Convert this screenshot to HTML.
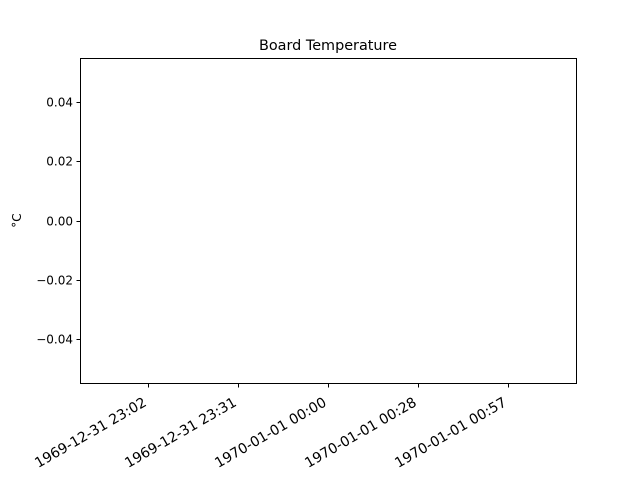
<!DOCTYPE html>
<html>
<head>
<meta charset="utf-8">
<style>
  html,body{margin:0;padding:0;background:#fff;}
  svg{display:block;font-family:"DejaVu Sans","Liberation Sans",sans-serif;}
</style>
</head>
<body>
<svg id="chart" width="640" height="480" viewBox="0 0 640 480">
  <rect x="0" y="0" width="640" height="480" fill="#fff"/>
  <text x="328" y="50" font-size="14.4" text-anchor="middle" fill="#000">Board Temperature</text>
  <text transform="translate(21,220.5) rotate(-90)" font-size="12" text-anchor="middle" fill="#000">°C</text>
  <g id="plot"></g>
  <rect x="80.5" y="58.5" width="496" height="325" fill="none" stroke="#000" stroke-width="1"/>
</svg>
<script>
const seriesTimes = [];
const seriesValues = [];
const yTicks = [0.04, 0.02, 0.00, -0.02, -0.04];
const yTickLabels = ["0.04", "0.02", "0.00", "\u22120.02", "\u22120.04"];
const xTicks = [-3456, -1728, 0, 1728, 3456];
const xTickLabels = ["1969-12-31 23:02", "1969-12-31 23:31", "1970-01-01 00:00", "1970-01-01 00:28", "1970-01-01 00:57"];

const NS = "http://www.w3.org/2000/svg";
const plotG = document.getElementById("plot");
const yMin = -0.055, yMax = 0.055, plotTop = 58, plotBottom = 383;
const xMin = -4761.6, xMax = 4761.6, plotLeft = 80, plotRight = 576;
function yScale(v){ return plotBottom - (v - yMin) / (yMax - yMin) * (plotBottom - plotTop); }
function xScale(v){ return plotLeft + (v - xMin) / (xMax - xMin) * (plotRight - plotLeft); }

yTicks.forEach((v, i) => {
  const y = Math.round(yScale(v)) + 0.5;
  const t = document.createElementNS(NS, "line");
  t.setAttribute("x1", 76.5); t.setAttribute("x2", 80.5);
  t.setAttribute("y1", y); t.setAttribute("y2", y);
  t.setAttribute("stroke", "#000");
  
  
  plotG.appendChild(t);
  const l = document.createElementNS(NS, "text");
  l.setAttribute("x", 73); l.setAttribute("y", y + 4);
  l.setAttribute("font-size", "12"); l.setAttribute("text-anchor", "end");
  l.textContent = yTickLabels[i];
  
  
  plotG.appendChild(l);
});

xTicks.forEach((v, i) => {
  const x = Math.round(xScale(v)) + 0.5;
  const t = document.createElementNS(NS, "line");
  t.setAttribute("x1", x); t.setAttribute("x2", x);
  t.setAttribute("y1", 383.5); t.setAttribute("y2", 387.5);
  t.setAttribute("stroke", "#000");
  
  
  plotG.appendChild(t);
  const l = document.createElementNS(NS, "text");
  l.setAttribute("transform", "translate(" + (x - 1) + ",405) rotate(-30)");
  l.setAttribute("font-size", "14"); l.setAttribute("text-anchor", "end");
  l.textContent = xTickLabels[i];
  
  
  plotG.appendChild(l);
});

if (seriesValues.length) {
  const p = document.createElementNS(NS, "polyline");
  p.setAttribute("points", seriesValues.map((v, i) => xScale(seriesTimes[i]) + "," + yScale(v)).join(" "));
  p.setAttribute("fill", "none"); p.setAttribute("stroke", "#1f77b4"); p.setAttribute("stroke-width", "1.5");
  
  
  plotG.appendChild(p);
}
</script>
</body>
</html>
